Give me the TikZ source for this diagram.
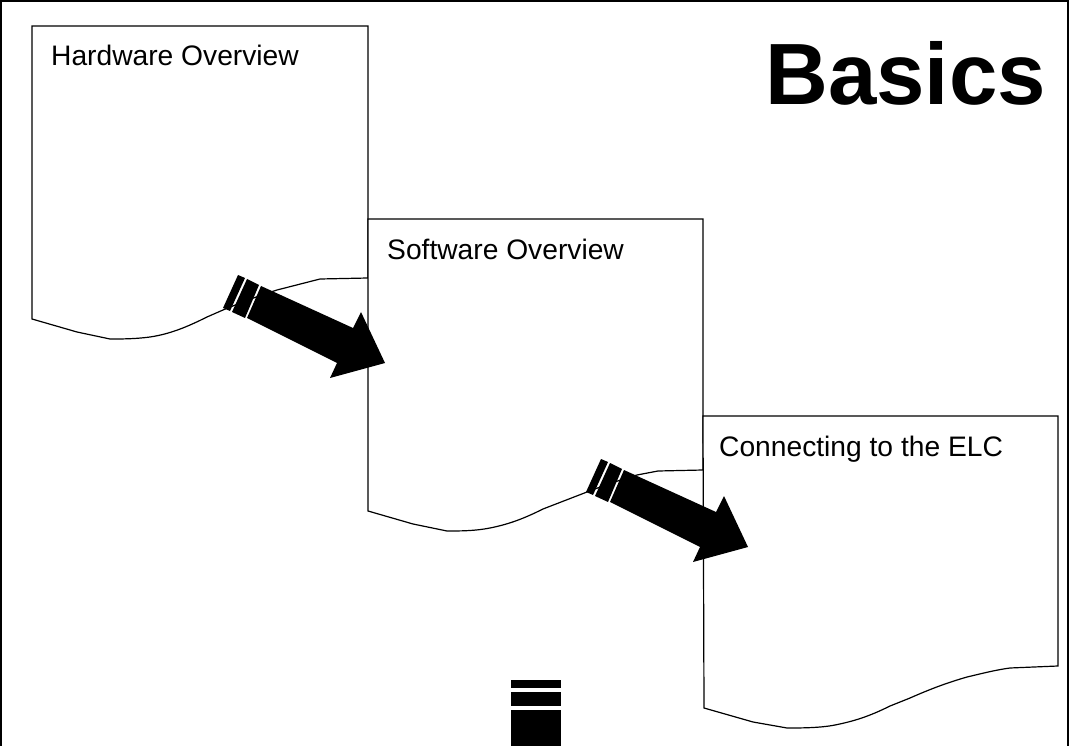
\documentclass[tikz,border=0pt]{standalone}
\usepackage{fontspec}
\setmainfont{Liberation Sans}
\tikzset{
  docshape/.style={draw=black,fill=white,line width=1.2pt,line join=miter},
  doclabel/.style={anchor=base west,inner sep=0pt,font=\fontsize{28.2}{32}\selectfont},
  solidblack/.style={fill=black,draw=none},
  bigarrow/.pic={
    \fill[solidblack] (238,275) -- (245,278) -- (230,311) -- (223,308) -- cycle;
    \fill[solidblack] (247,279) -- (259,285) -- (245,318) -- (232,312) -- cycle;
    \fill[solidblack] (261,286) -- (353,328) -- (361,312) -- (385,363) -- (330,378) -- (337,363) -- (247,318) -- cycle;
  }
}
\begin{document}
\begin{tikzpicture}[x=1pt,y=-1pt]
\useasboundingbox (0,0) rectangle (1069,746);
\fill[white] (0,0) rectangle (1069,746);
% frame
\draw[black,line width=2.2pt] (1,746) -- (1,1) -- (1068,1) -- (1068,746);
% documents
\draw[docshape] (32,26) -- (368,26) -- (368,278) -- (320,279) -- (277,290)
  .. controls (255,297) and (240,303) .. (223,310) -- (207,317)
  .. controls (187,327) and (170,334) .. (150,337) .. controls (135,339) and (122,339) .. (110,339)
  -- (77,332) -- (32,319) -- cycle;
\draw[docshape] (368,219) -- (703,219) -- (703,470) -- (658,471) -- (637,475)
  .. controls (620,480) and (605,485) .. (587,492) -- (543,509)
  .. controls (525,518) and (510,524) .. (490,528) .. controls (475,531) and (460,531) .. (447,531)
  -- (413,524) -- (368,511) -- cycle;
\draw[docshape] (703,416) -- (1058,416) -- (1058,666) -- (1010,668)
  .. controls (995,670) and (980,674) .. (967,677) .. controls (950,682) and (935,687) .. (910,698)
  -- (890,706) .. controls (870,716) and (855,721) .. (835,725) .. controls (820,728) and (800,728) .. (787,728)
  -- (753,722) -- (704,708) -- cycle;
% labels
\node[doclabel] (hw) at (51,66) {Hardware Overview};
\node[doclabel] (sw) at (387,260) {Software Overview};
\node[doclabel] (elc) at (719,456) {Connecting to the ELC};
\node[anchor=base east,inner sep=0pt,font=\fontsize{87}{90}\selectfont\bfseries] (title) at (1046,105) {Basics};
% arrows
\pic at (0,0) {bigarrow};
\pic at (363,184) {bigarrow};
% bottom mark
\fill[solidblack] (511,680) rectangle (561,688);
\fill[solidblack] (511,692) rectangle (561,706);
\fill[solidblack] (511,710) rectangle (561,746);
\end{tikzpicture}
\end{document}
